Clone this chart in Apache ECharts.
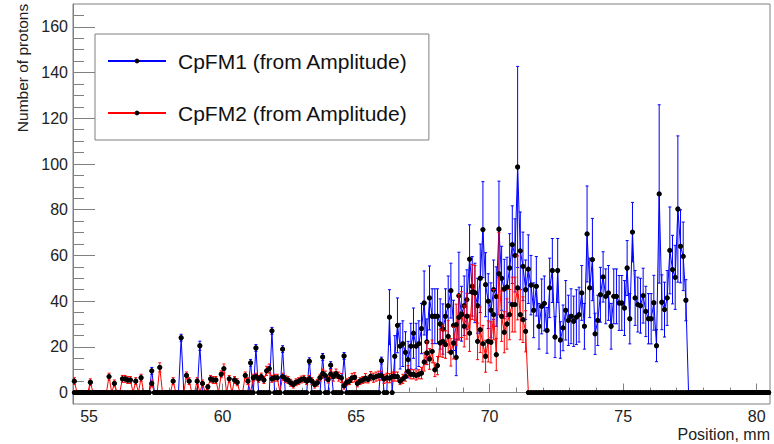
<!DOCTYPE html>
<html><head><meta charset="utf-8">
<script src="https://cdn.jsdelivr.net/npm/echarts@6/dist/echarts.min.js"></script>
<style>html,body{margin:0;padding:0;background:#fff}#c{width:774px;height:444px}</style>
</head><body><div id="c"></div>
<script>
// Histogram binning (ROOT-style: nbins, xlow, width)
const binLow = 54.4;
const binWidth = 0.1;
const nBins = 261;

// Axis ranges and tick labels
const xMin = 54.4, xMax = 80.5;
const yMin = -5, yMax = 170;
const xMajorTicks = [55, 60, 65, 70, 75, 80];
const xMinorTicks = [55,56,57,58,59,60,61,62,63,64,65,66,67,68,69,70,71,72,73,74,75,76,77,78,79,80];
const yMajorTicks = [0, 20, 40, 60, 80, 100, 120, 140, 160];
const yMinorTicks = [0,5,10,15,20,25,30,35,40,45,50,55,60,65,70,75,80,85,90,95,100,105,110,115,120,125,130,135,140,145,150,155,160,165];

const seriesNames = ['CpFM1 (from Amplitude)', 'CpFM2 (from Amplitude)'];
const xTitle = 'Position, mm';
const yTitle = 'Number of protons';

// CpFM1 bin contents
const cpfm1 = [
0,0,0,0,0,0,0,0,0,0,
0,0,0,0,0,0,0,0,0,0,
0,0,0,0,0,0,0,0,0,9.5,
0,0,0,0,0,0,0,0,0,0,
24,0,0,0,0,0,0,20.5,0,0,
0,0,0,0,0,0,0,0,0,0,
0,0,0,0,0,0,13,0,19.5,0,
0,0,0,0,27,0,0,0,19,0,
0,0,0,0,0,0,0,0,13.7,0,
0,0,0,15.6,0,0,12,0,0,0,
0,16,0,0,0,0,0,0,0,0,
0,0,0,0,0,14,0,0,33,0,
15.9,29.4,20.3,21.4,17.6,14.4,20.3,26,20.3,21.4,
28,39.2,22.2,41.4,33.4,33.4,33.4,30,27.8,33.4,
38,44.6,29.4,15.4,42.4,34.5,38,40.7,58.4,46.5,
43.6,38,50,71.3,47.2,40,36,45,42,71.5,
50,45.3,46.2,54.5,64.7,60,98.7,62,55.2,45,
54,47,36,46.5,29,37.7,39,27.2,45.8,53.4,
24.3,53.4,23,28.3,36,31.6,33.4,31.2,33,34.1,
43.6,29,69.4,45.8,58.2,25.7,31.6,42.8,50.6,42.1,
43.6,29,42.1,42.1,39.2,39.2,37,54.5,32.3,70.2,
41.4,38.5,38,42.4,35.5,32.3,32.3,39.3,20.5,86.9,
39.5,36.3,41.4,62.2,53.8,50.4,80.3,64,59.6,40.4,
0,0,0,0,0,0,0,0,0,0,
0,0,0,0,0,0,0,0,0,0,
0,0,0,0,0,0,0,0,0,0,
0];
// CpFM1 bin errors
const cpfm1Err = [
0,0,0,0,0,0,0,0,0,0,
0,0,0,0,0,0,0,0,0,0,
0,0,0,0,0,0,0,0,0,1.5,
0,0,0,0,0,0,0,0,0,0,
1.5,0,0,0,0,0,0,2,0,0,
0,0,0,0,0,0,0,0,0,0,
0,0,0,0,0,0,1.5,0,1.5,0,
0,0,0,0,1.5,0,0,0,1.5,0,
0,0,0,0,0,0,0,0,1.5,0,
0,0,0,1.5,0,0,1.5,0,0,0,
0,1.5,0,0,0,0,0,0,0,0,
0,0,0,0,0,1.5,0,0,12,0,
9,12,10,10,9,8,10,11,10,10,
11,14,10,14,12,12,12,11,11,12,
13,12,11,8,19,12,13,13,15,13,
13,12,15,21,14,12,12,13,13,21,
14,13,13,15,17,16,44,17,15,13,
15,13,12,13,10,12,12,10,13,14,
9,14,8,10,13,11,12,11,12,12,
12,10,21,13,18,9,11,12,11,12,
12,10,12,12,12,12,12,12,11,13,
12,12,12,12,11,11,11,12,7,39,
12,12,12,19,15,14,32,16,15,9,
0,0,0,0,0,0,0,0,0,0,
0,0,0,0,0,0,0,0,0,0,
0,0,0,0,0,0,0,0,0,0,
0];
// CpFM2 bin contents
const cpfm2 = [
5,0,0,0,0,0,4.5,0,0,0,
0,0,0,7,0,4,0,0,6,6,
5.5,5.5,0,5,0,6.5,0,0,0,4,
0,0,11,0,0,0,0,5,0,0,
0,0,7.5,5,0,0,5,0,4,0,
2.5,6,5.5,5.5,0,8,10.5,0,6,0,
5.5,4.5,0,0,7.5,5,0,6.5,7,6,
7,5.5,9.5,10.5,6,6.5,6.5,0,7,6,
5.5,4.3,3.5,4.5,5,5.7,6,5,6,5,
3.5,4.3,6.5,8.3,7.4,5.7,8.1,7,8.3,7,
6.4,3,4.5,5,6.4,6.7,4,5,5.5,6.3,
5.7,7.2,6.5,7,7.4,7.4,6,6.5,6.3,7,
7,7,5,6,7,9.3,8,8,7.5,8,
8.5,13.4,17.3,14.7,18,10,11.8,21.7,22.4,21,
24.6,17.6,21.7,29.7,32.9,34.1,29,33.4,26,44,
43.6,22.4,27.5,21.4,15.9,22.4,22,34.1,16.6,52,
33.4,26.4,30,34.1,38.5,38.5,45.8,34.1,31.9,26.8,
0,0,0,0,0,0,0,0,0,0,
0,0,0,0,0,0,0,0,0,0,
0,0,0,0,0,0,0,0,0,0,
0,0,0,0,0,0,0,0,0,0,
0,0,0,0,0,0,0,0,0,0,
0,0,0,0,0,0,0,0,0,0,
0,0,0,0,0,0,0,0,0,0,
0,0,0,0,0,0,0,0,0,0,
0,0,0,0,0,0,0,0,0,0,
0];
// CpFM2 bin errors
const cpfm2Err = [
1.5,0,0,0,0,0,1.5,0,0,0,
0,0,0,1.5,0,1.5,0,0,1.5,1.5,
1.5,1.5,0,1.5,0,1.5,0,0,0,1.5,
0,0,2,0,0,0,0,1.5,0,0,
0,0,1.5,1.5,0,0,1.5,0,1.5,0,
1,1.5,1.5,1.5,0,1.5,2,0,1.5,0,
1.5,1.5,0,0,1.5,1.5,0,1.5,1.5,1.5,
1.5,1.5,2,2,1.5,1.5,1.5,0,1.5,1.5,
1.5,1.5,1.5,1.5,1.5,1.5,1.5,1.5,1.5,1.5,
1.5,1.5,1.5,2,2,1.5,2,2,2,2,
2,1.5,1.5,1.5,2,2,1.5,1.5,1.5,2,
1.5,2,2,2,2,2,2,2,2,2,
2,2,1.5,2,2,2.5,2,2,2,2,
2.5,4,5,4.5,5,3,4,6,7,6,
7,6,7,9,10,10,9,10,8,12,
12,8,10,8,7,9,9,11,7,18,
11,9,11,11,12,12,14,11,10,9,
0,0,0,0,0,0,0,0,0,0,
0,0,0,0,0,0,0,0,0,0,
0,0,0,0,0,0,0,0,0,0,
0,0,0,0,0,0,0,0,0,0,
0,0,0,0,0,0,0,0,0,0,
0,0,0,0,0,0,0,0,0,0,
0,0,0,0,0,0,0,0,0,0,
0,0,0,0,0,0,0,0,0,0,
0,0,0,0,0,0,0,0,0,0,
0];

// ---- build library data from the arrays ----
const binCenters = [];
for (let i = 0; i < nBins; i++) binCenters.push(+(binLow + binWidth * (i + 0.5)).toFixed(3));
function points(vals) { return vals.map((v, i) => [binCenters[i], v]); }
function errRows(vals, errs) {
  const out = [];
  vals.forEach((v, i) => { if (errs[i] > 0) out.push([binCenters[i], v - errs[i], v + errs[i]]); });
  return out;
}
function errRenderer(color) {
  return function (params, api) {
    const x = api.value(0);
    const p1 = api.coord([x, api.value(1)]);
    const p2 = api.coord([x, api.value(2)]);
    const st = { stroke: color, lineWidth: 1 };
    return {
      type: 'group',
      children: [
        { type: 'line', shape: { x1: p1[0], y1: p1[1], x2: p2[0], y2: p2[1] }, style: st },
        { type: 'line', shape: { x1: p2[0] - 1.5, y1: p2[1], x2: p2[0] + 1.5, y2: p2[1] }, style: st },
        { type: 'line', shape: { x1: p1[0] - 1.5, y1: p1[1], x2: p1[0] + 1.5, y2: p1[1] }, style: st }
      ]
    };
  };
}

const FONT = 'Liberation Sans, Arial, Helvetica, sans-serif';
const AX = '#808080';
const chart = echarts.init(document.getElementById('c'), null, { renderer: 'svg', width: 774, height: 444 });

function lineSeries(name, vals, color, z) {
  return {
    type: 'line', name: name, data: points(vals), xAxisIndex: 0, yAxisIndex: 0,
    symbol: 'circle', symbolSize: 5, showAllSymbol: true, showSymbol: true,
    itemStyle: { color: '#000', borderWidth: 0 },
    lineStyle: { color: color, width: 1 },
    emphasis: { disabled: true }, clip: true, z: z, animation: false
  };
}
function markerSeries(name, vals, z) {
  return {
    type: 'scatter', name: name, data: points(vals), xAxisIndex: 0, yAxisIndex: 0,
    symbol: 'circle', symbolSize: 5, itemStyle: { color: '#000', borderWidth: 0 },
    emphasis: { disabled: true }, silent: true, clip: true, z: z, animation: false, large: false
  };
}
function errSeries(name, vals, errs, color, z) {
  return {
    type: 'custom', name: name, data: errRows(vals, errs), xAxisIndex: 0, yAxisIndex: 0,
    renderItem: errRenderer(color), encode: { x: 0, y: [1, 2] }, clip: true, silent: true, z: z, animation: false
  };
}

chart.setOption({
  animation: false,
  backgroundColor: '#fff',
  grid: { left: 73, right: 4, top: 4, bottom: 40, show: true, borderColor: AX, borderWidth: 1, backgroundColor: 'transparent' },
  xAxis: [
    { type: 'value', min: xMin, max: xMax, position: 'bottom',
      axisLine: { show: true, lineStyle: { color: AX, width: 1 } },
      axisTick: { show: true, inside: true, length: 9, customValues: xMajorTicks, lineStyle: { color: AX } },
      axisLabel: { customValues: xMajorTicks, margin: 4, fontSize: 16, color: '#222', fontFamily: FONT },
      splitLine: { show: false } },
    { type: 'value', min: xMin, max: xMax, position: 'bottom',
      axisLine: { show: false },
      axisTick: { show: true, inside: true, length: 5, customValues: xMinorTicks, lineStyle: { color: AX } },
      axisLabel: { show: false }, splitLine: { show: false } }
  ],
  yAxis: [
    { type: 'value', min: yMin, max: yMax, position: 'left',
      axisLine: { show: true, lineStyle: { color: AX, width: 1 } },
      axisTick: { show: true, inside: true, length: 22, customValues: yMajorTicks, lineStyle: { color: AX } },
      axisLabel: { customValues: yMajorTicks, margin: 5, fontSize: 16, color: '#222', fontFamily: FONT },
      splitLine: { show: false } },
    { type: 'value', min: yMin, max: yMax, position: 'left',
      axisLine: { show: false },
      axisTick: { show: true, inside: true, length: 11, customValues: yMinorTicks, lineStyle: { color: AX } },
      axisLabel: { show: false }, splitLine: { show: false } }
  ],
  legend: {
    data: seriesNames, orient: 'vertical', left: 95, top: 34,
    padding: [15, 21, 15, 12], itemGap: 28, itemWidth: 58, itemHeight: 6,
    borderColor: '#808080', borderWidth: 1, backgroundColor: '#fff',
    selectedMode: false,
    textStyle: { fontSize: 21, lineHeight: 24, color: '#111', fontFamily: FONT, padding: [0, 0, 0, 7] }
  },
  graphic: [
    { type: 'text', right: 4, top: 426, style: { text: xTitle, font: '16px ' + FONT, fill: '#222' } },
    { type: 'text', x: 22, y: 68, rotation: Math.PI / 2,
      style: { text: yTitle, font: '15.5px ' + FONT, fill: '#222', textAlign: 'center', textVerticalAlign: 'middle' } }
  ],
  series: [
    errSeries('cpfm1-err', cpfm1, cpfm1Err, '#0000ff', 2),
    lineSeries(seriesNames[0], cpfm1, '#0000ff', 3),
    markerSeries('cpfm1-markers', cpfm1, 4),
    errSeries('cpfm2-err', cpfm2, cpfm2Err, '#ff0000', 5),
    lineSeries(seriesNames[1], cpfm2, '#ff0000', 6),
    markerSeries('cpfm2-markers', cpfm2, 7)
  ]
});
</script>
</body></html>
